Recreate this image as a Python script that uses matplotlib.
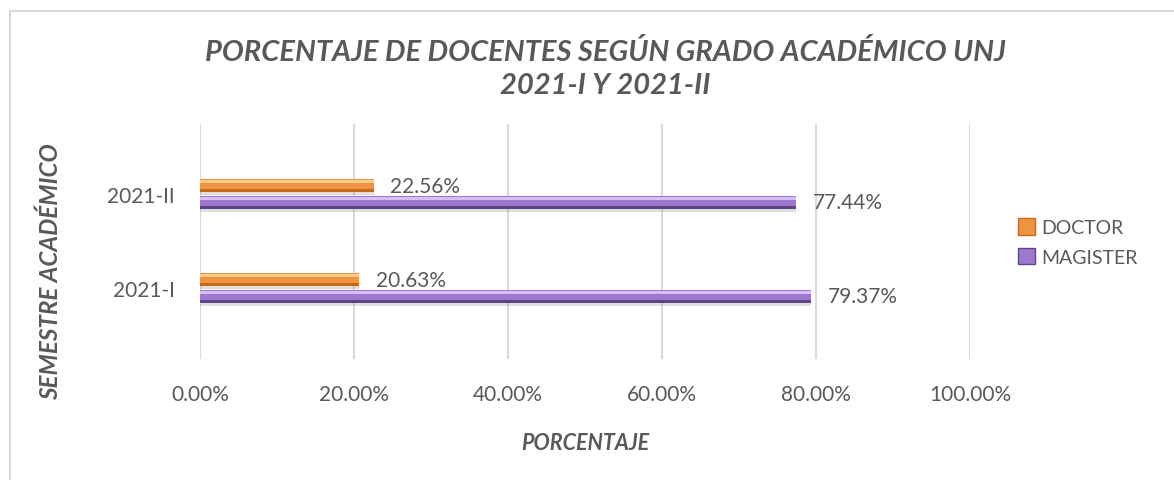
"""Porcentaje de docentes según grado académico (UNJ 2021-I / 2021-II)."""

import matplotlib
matplotlib.use("Agg")
import matplotlib.pyplot as plt
from matplotlib.patches import Rectangle, Patch
import numpy as np

# --- Daten ---
semestres = ["2021-I", "2021-II"]
doctor = [0.2063, 0.2256]
magister = [0.7937, 0.7744]
x_ticks = [0.0, 0.2, 0.4, 0.6, 0.8, 1.0]

# --- Stil ---
TEXT = "#595959"
GRID = "#D9D9D9"
ORANGE = ("#C8691C", "#EE9440", "#FBCB88")   # dunkel, mittel, Glanzlicht
PURPLE = ("#5E4585", "#9C79CF", "#D7BDF6")
FONT = "Lato"

plt.rcParams["font.family"] = [FONT, "DejaVu Sans"]

fig = plt.figure(figsize=(11.74, 4.81), dpi=100)
W, H = 1174, 481
ax = fig.add_axes([200 / W, 1 - 360 / H, 770 / W, 235 / H])

y = np.arange(len(semestres))
bh = 0.14
off = 0.09


def bevel_bar(ypos, vals, colors):
    dark, mid, light = colors
    # weicher Schatten unter dem Balken
    ax.barh(ypos - 0.035, vals, height=bh, color="#7F7F7F", alpha=0.25, zorder=2)
    ax.barh(ypos, vals, height=bh, color=dark, zorder=3)
    ax.barh(ypos + bh * 0.1, vals, height=bh * 0.75, color=mid, zorder=4)
    ax.barh(ypos + bh * 0.3, vals, height=bh * 0.25, color=light, zorder=5)


bevel_bar(y - off, magister, PURPLE)
bevel_bar(y + off, doctor, ORANGE)

for yi, v in zip(y + off, doctor):
    ax.annotate(f"{v * 100:.2f}%", (v, yi), xytext=(12, 0), textcoords="offset points",
                va="center", ha="left", fontsize=15, color=TEXT)
for yi, v in zip(y - off, magister):
    ax.annotate(f"{v * 100:.2f}%", (v, yi), xytext=(12, 0), textcoords="offset points",
                va="center", ha="left", fontsize=15, color=TEXT)

ax.set_xlim(0, 1.0)
ax.set_ylim(-0.755, 1.745)
ax.set_xticks(x_ticks)
ax.set_xticklabels([f"{t * 100:.2f}%" for t in x_ticks])
ax.set_yticks(y)
ax.set_yticklabels(semestres)
ax.tick_params(length=0, labelsize=15, labelcolor=TEXT)
ax.tick_params(axis="x", pad=18)
ax.tick_params(axis="y", pad=18)
ax.grid(axis="x", color=GRID, lw=1.5, zorder=0)
ax.set_axisbelow(True)
for s in ax.spines.values():
    s.set_visible(False)

ax.set_xlabel("PORCENTAJE", fontsize=15.5, fontweight="bold", fontstyle="italic",
              color=TEXT, labelpad=20)
fig.text(50 / W, 1 - 272 / H, "SEMESTRE ACADÉMICO", rotation=90, ha="center", va="center",
         fontsize=17.5, fontweight="bold", fontstyle="italic", color=TEXT)

fig.text(605 / W, 1 - 69 / H, "PORCENTAJE DE DOCENTES SEGÚN GRADO ACADÉMICO UNJ\n2021-I Y 2021-II",
         ha="center", va="center", fontsize=21, fontweight="bold", fontstyle="italic",
         color=TEXT, linespacing=1.3)

# Legende
handles = [Patch(facecolor=ORANGE[1], edgecolor=ORANGE[0]),
           Patch(facecolor=PURPLE[1], edgecolor=PURPLE[0])]
fig.legend(handles, ["DOCTOR", "MAGISTER"], loc="center left",
           bbox_to_anchor=(1000 / W, 1 - 243 / H), frameon=False, fontsize=14,
           labelcolor=TEXT, handlelength=0.9, handleheight=0.9, handletextpad=0.3,
           labelspacing=0.6)

# Diagramm-Rahmen
fig.patches.append(Rectangle((10 / W, -0.1), 1.2, 1 - 12 / H + 0.1, transform=fig.transFigure,
                             fill=False, edgecolor=GRID, lw=1.5))

fig.savefig("out.png", dpi=100)
